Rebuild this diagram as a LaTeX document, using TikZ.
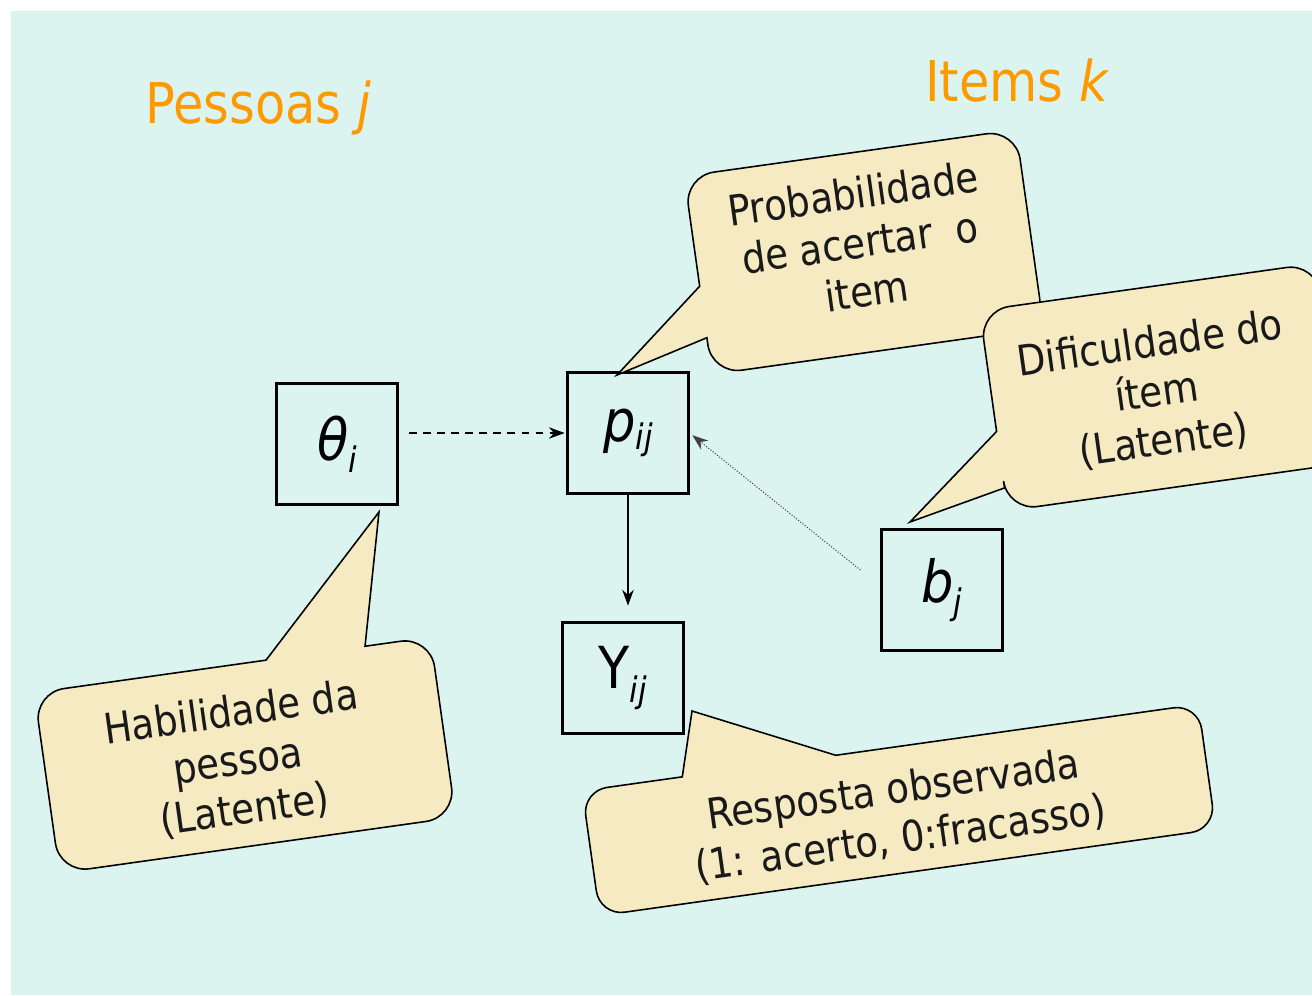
\documentclass[tikz,border=0pt]{standalone}
\usepackage{fontspec}
\setmainfont{DejaVu Sans}[FakeStretch=0.88, ItalicFont={DejaVu Sans Oblique}]
\usetikzlibrary{arrows.meta,calc}
\definecolor{bgcyan}{RGB}{220,244,240}
\definecolor{calloutfill}{RGB}{245,234,194}
\definecolor{titleorange}{RGB}{255,153,0}

\begin{document}
\begin{tikzpicture}[x=0.02cm, y=0.02cm,
				varBox/.style={draw, line width=1.2pt, minimum width=2.42cm, minimum height=2.42cm, inner sep=0pt, font=\fontsize{33}{36}\selectfont},
				bubble/.style={draw, line width=0.9pt, fill=calloutfill},
				bubbleText/.style={rotate=8, align=center, text=black!90, font=\fontsize{24}{28}\selectfont},
				title/.style={text=titleorange, anchor=base west, font=\fontsize{32}{36}\selectfont},
				>={Stealth[length=9pt, width=6.5pt]}]
			\useasboundingbox (0,0) rectangle (1312,-995);
			\clip (0,0) rectangle (1312,-995);
			\fill[white] (0,0) rectangle (1312,-995);
			\fill[bgcyan] (11,-11) rectangle (1312,-995);

			\node[title] (pessoas) at (139,-123) {Pessoas {\itshape j}};
			\node[title] (items) at (919,-101) {Items {\itshape k}};

			\node[varBox] (theta) at (337,-444) {\itshape θ\raisebox{-7pt}{\fontsize{20}{20}\selectfont i}};
			\node[varBox] (pij) at (628,-433) {\itshape p\raisebox{-5pt}{\fontsize{20}{20}\selectfont ij}};
			\node[varBox, minimum height=2.22cm] (yij) at (623,-678) {Y\raisebox{-8pt}{\fontsize{20}{20}\selectfont\itshape ij}\hspace{14pt}};
			\node[varBox] (bj) at (942,-590) {\itshape b\raisebox{-7pt}{\fontsize{20}{20}\selectfont j}};

			\draw[line width=1pt, dash pattern=on 4.5pt off 3.5pt, ->, shorten <=6pt, shorten >=1pt] (theta.east |- pij.west) -- (pij.west);
			\draw[line width=1pt, ->, shorten >=9pt] (pij.south) -- (pij.south |- yij.north);
			\draw[densely dotted, line width=0.6pt, black!75, ->, shorten >=2pt] ($(bj.west)+(-20,20)$) -- (pij.east);

			\coordinate (tipA) at (617,-375);
			\coordinate (tipB) at (910,-522);
			\coordinate (tipC) at (379,-512);
			\coordinate (tipD) at (692,-711);

			\begin{scope}[shift={(864,-252)}, rotate=8]
				\draw[bubble] (-167.5,-11) -- (-167.5,70) arc[start angle=180, end angle=90, radius=30]
					-- (137.5,100) arc[start angle=90, end angle=0, radius=30]
					-- (167.5,-70) arc[start angle=0, end angle=-90, radius=30]
					-- (-137.5,-100) arc[start angle=270, end angle=180, radius=30]
					-- (-167.5,-63) -- (tipA) -- cycle;
			\end{scope}
			\node[bubbleText] (probText) at (860,-242) {Probabilidade\\de acertar\ \ o\\item};

			\begin{scope}[shift={(1162,-387)}, rotate=8]
				\draw[bubble] (-170,-21) -- (-170,71) arc[start angle=180, end angle=90, radius=30]
					-- (140,101) arc[start angle=90, end angle=0, radius=30]
					-- (170,-71) arc[start angle=0, end angle=-90, radius=30]
					-- (-140,-101) arc[start angle=270, end angle=180, radius=30]
					-- (-170,-78) -- (tipB) -- cycle;
			\end{scope}
			\node[bubbleText] (difText) at (1157,-393) {Dificuldade do\\ítem\\(Latente)};

			\begin{scope}[shift={(245,-755)}, rotate=8]
				\draw[bubble] (134,91) -- (170,91) arc[start angle=90, end angle=0, radius=30]
					-- (200,-61) arc[start angle=0, end angle=-90, radius=30]
					-- (-170,-91) arc[start angle=270, end angle=180, radius=30]
					-- (-200,61) arc[start angle=180, end angle=90, radius=30]
					-- (34,91) -- (tipC) -- cycle;
			\end{scope}
			\node[bubbleText] (habText) at (238,-762) {Habilidade da\\pessoa\\(Latente)};

			\begin{scope}[shift={(899,-810)}, rotate=8]
				\draw[bubble] (-55,63) -- (286,63) arc[start angle=90, end angle=0, radius=25]
					-- (311,-38) arc[start angle=0, end angle=-90, radius=25]
					-- (-286,-63) arc[start angle=270, end angle=180, radius=25]
					-- (-311,38) arc[start angle=180, end angle=90, radius=25]
					-- (-210,63) -- (tipD) -- cycle;
			\end{scope}
			\node[bubbleText] (respText) at (897,-815) {Resposta observada\\(1: acerto, 0:fracasso)};
		\end{tikzpicture}
\end{document}
